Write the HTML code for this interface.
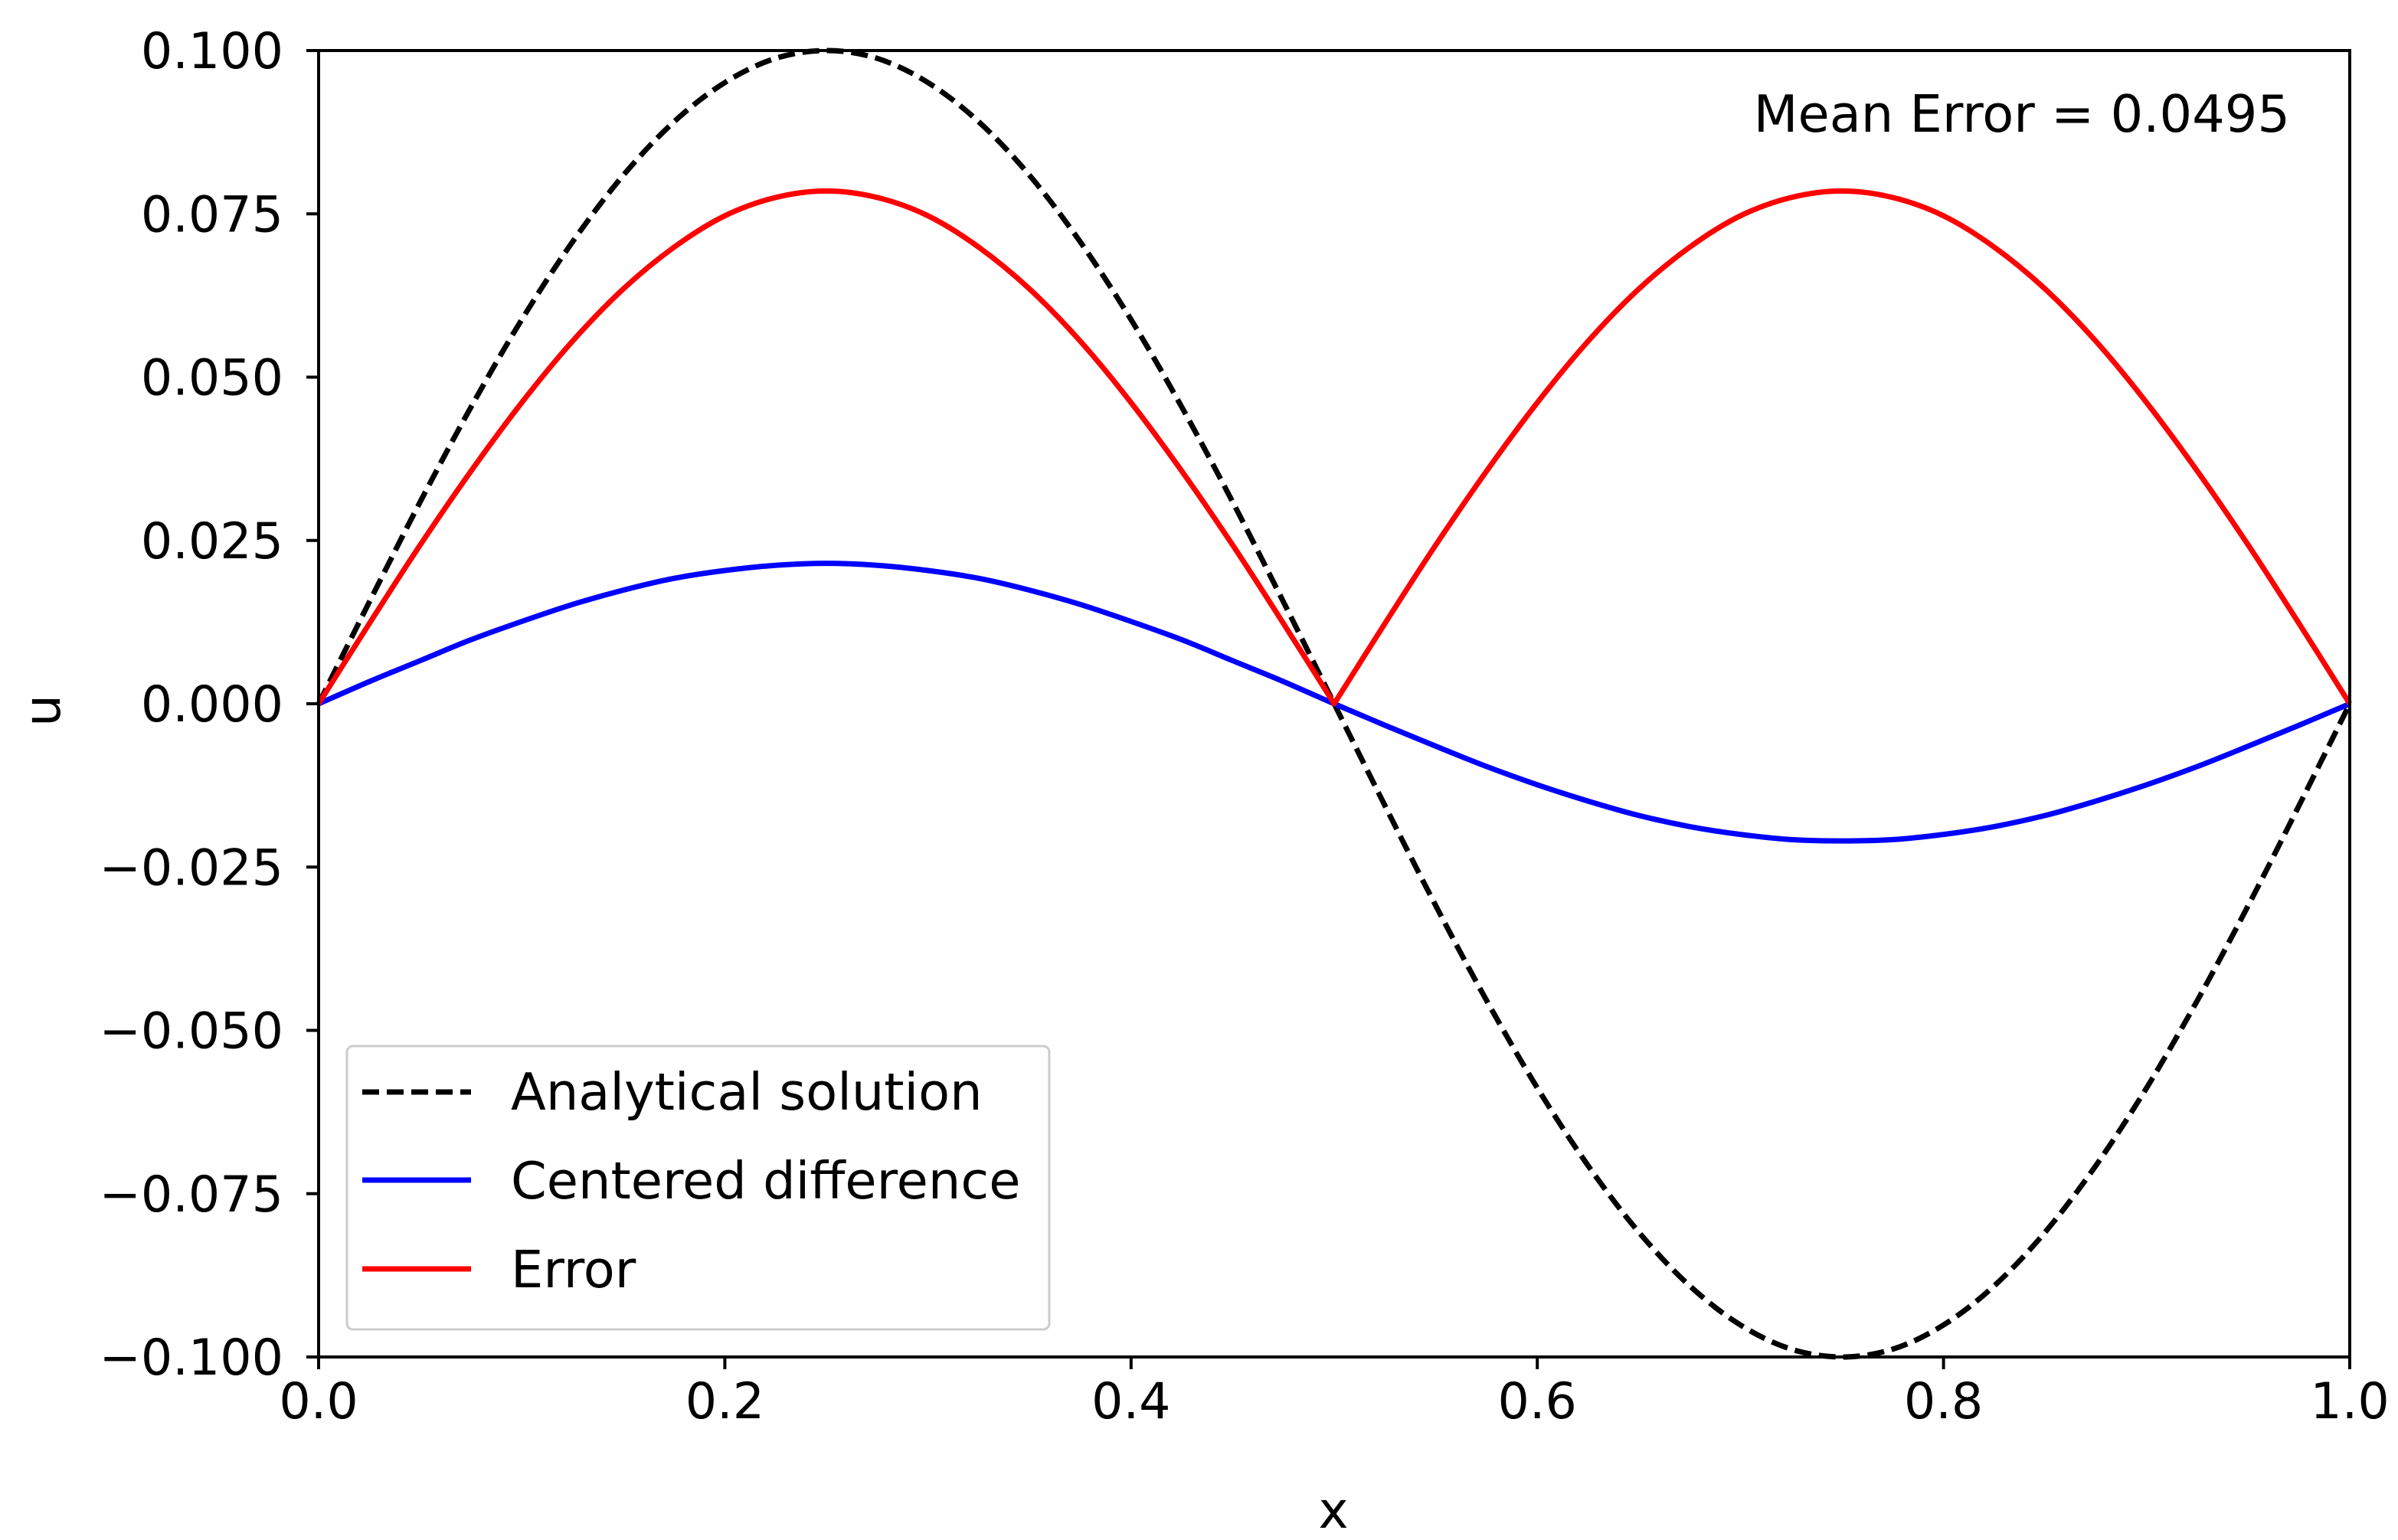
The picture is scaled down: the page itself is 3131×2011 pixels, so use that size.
<!DOCTYPE html>
<html><head><meta charset="utf-8"><style>
html,body{margin:0;padding:0;background:#fff;}
svg{display:block;}
text{font-family:"DejaVu Sans","Liberation Sans",sans-serif;fill:#000;}
</style></head><body>
<svg id="chart" width="3131" height="2011" viewBox="0 0 3131 2011" xmlns="http://www.w3.org/2000/svg">
<rect x="0" y="0" width="3131" height="2011" fill="#fff"/>
<g id="series"></g>
<g id="axes"></g>
<text x="2990" y="172" font-size="67" text-anchor="end">Mean Error = 0.0495</text>
<text x="1741" y="1995" font-size="66" text-anchor="middle">x</text>
<text x="0" y="0" font-size="66" text-anchor="middle" transform="translate(78,928) rotate(-90)">u</text>
<g>
<rect x="453" y="1366" width="917" height="370" rx="8" fill="#fff" fill-opacity="0.8" stroke="#ccc" stroke-width="3"/>
<line x1="473" y1="1426" x2="615" y2="1426" stroke="#000" stroke-width="7" stroke-dasharray="22,10"/>
<text x="667" y="1449" font-size="67">Analytical solution</text>
<line x1="473" y1="1541" x2="615" y2="1541" stroke="#00f" stroke-width="7"/>
<text x="667" y="1565" font-size="67">Centered difference</text>
<line x1="473" y1="1657" x2="615" y2="1657" stroke="#f00" stroke-width="7"/>
<text x="667" y="1681" font-size="67">Error</text>
</g>
</svg>
<script>
const xValues = [0,0.025,0.05,0.075,0.1,0.125,0.15,0.175,0.2,0.225,0.25,0.275,0.3,0.325,0.35,0.375,0.4,0.425,0.45,0.475,0.5,0.525,0.55,0.575,0.6,0.625,0.65,0.675,0.7,0.725,0.75,0.775,0.8,0.825,0.85,0.875,0.9,0.925,0.95,0.975,1];
const analytical = [0,0.0156,0.0309,0.0454,0.0588,0.0707,0.0809,0.0891,0.0951,0.0988,0.1,0.0988,0.0951,0.0891,0.0809,0.0707,0.0588,0.0454,0.0309,0.0156,0,-0.0156,-0.0309,-0.0454,-0.0588,-0.0707,-0.0809,-0.0891,-0.0951,-0.0988,-0.1,-0.0988,-0.0951,-0.0891,-0.0809,-0.0707,-0.0588,-0.0454,-0.0309,-0.0156,0];
const centered = [0,0.0034,0.0066,0.0098,0.0126,0.0152,0.0174,0.0192,0.0204,0.0212,0.0215,0.0212,0.0204,0.0192,0.0174,0.0152,0.0126,0.0098,0.0066,0.0034,0,-0.0033,-0.0065,-0.0096,-0.0124,-0.0149,-0.0171,-0.0188,-0.02,-0.0208,-0.021,-0.0208,-0.02,-0.0188,-0.0171,-0.0149,-0.0124,-0.0096,-0.0065,-0.0033,0];
const errorVals = [0,0.0123,0.0243,0.0356,0.0461,0.0555,0.0635,0.0699,0.0747,0.0775,0.0785,0.0775,0.0747,0.0699,0.0635,0.0555,0.0461,0.0356,0.0243,0.0123,0,0.0123,0.0243,0.0356,0.0461,0.0555,0.0635,0.0699,0.0747,0.0775,0.0785,0.0775,0.0747,0.0699,0.0635,0.0555,0.0461,0.0356,0.0243,0.0123,0];
const xTicks = [0,0.2,0.4,0.6,0.8,1.0];
const xTickLabels = ["0.0","0.2","0.4","0.6","0.8","1.0"];
const yTicks = [0.1,0.075,0.05,0.025,0,-0.025,-0.05,-0.075,-0.1];
const yTickLabels = ["0.100","0.075","0.050","0.025","0.000","\u22120.025","\u22120.050","\u22120.075","\u22120.100"];

const NS = "http://www.w3.org/2000/svg";
const L = 416, R = 3068, T = 66, B = 1772;
const xMin = 0, xMax = 1, yMin = -0.1, yMax = 0.1;
function sx(v){ return L + (v - xMin) / (xMax - xMin) * (R - L); }
function sy(v){ return B - (v - yMin) / (yMax - yMin) * (B - T); }

function smoothPath(xs, ys){
  const p = xs.map((x,i)=>[sx(x), sy(ys[i])]);
  let d = "M" + p[0][0].toFixed(1) + "," + p[0][1].toFixed(1);
  for (let i = 0; i < p.length - 1; i++){
    const p0 = p[i-1] || p[i], p1 = p[i], p2 = p[i+1], p3 = p[i+2] || p[i+1];
    const c1 = [p1[0] + (p2[0]-p0[0])/6, p1[1] + (p2[1]-p0[1])/6];
    const c2 = [p2[0] - (p3[0]-p1[0])/6, p2[1] - (p3[1]-p1[1])/6];
    d += " C" + c1[0].toFixed(1) + "," + c1[1].toFixed(1) + " " + c2[0].toFixed(1) + "," + c2[1].toFixed(1) + " " + p2[0].toFixed(1) + "," + p2[1].toFixed(1);
  }
  return d;
}
function cuspPath(xs, ys){
  let d = "", start = 0;
  for (let i = 1; i < xs.length; i++){
    if (ys[i] === 0 || i === xs.length - 1){
      const seg = smoothPath(xs.slice(start, i+1), ys.slice(start, i+1));
      d += (start === 0 ? seg : " L" + seg.slice(1));
      start = i;
    }
  }
  return d;
}

const series = document.getElementById("series");
const axes = document.getElementById("axes");

const pa = document.createElementNS(NS, "path");
pa.setAttribute("d", cuspPath(xValues, analytical));
pa.setAttribute("fill", "none"); pa.setAttribute("stroke", "#000"); pa.setAttribute("stroke-width", "7"); pa.setAttribute("stroke-dasharray", "22,10");


series.appendChild(pa);

const pb = document.createElementNS(NS, "path");
pb.setAttribute("d", smoothPath(xValues, centered));
pb.setAttribute("fill", "none"); pb.setAttribute("stroke", "#00f"); pb.setAttribute("stroke-width", "7");


series.appendChild(pb);

const pr = document.createElementNS(NS, "path");
pr.setAttribute("d", cuspPath(xValues, errorVals));
pr.setAttribute("fill", "none"); pr.setAttribute("stroke", "#f00"); pr.setAttribute("stroke-width", "7"); pr.setAttribute("stroke-linejoin", "round");


series.appendChild(pr);

const frame = document.createElementNS(NS, "rect");
frame.setAttribute("x", L); frame.setAttribute("y", T); frame.setAttribute("width", R - L); frame.setAttribute("height", B - T);
frame.setAttribute("fill", "none"); frame.setAttribute("stroke", "#000"); frame.setAttribute("stroke-width", "4");


axes.appendChild(frame);

xTicks.forEach((v,i)=>{
  const t = document.createElementNS(NS, "line");
  t.setAttribute("x1", sx(v)); t.setAttribute("x2", sx(v)); t.setAttribute("y1", B); t.setAttribute("y2", B + 16);
  t.setAttribute("stroke", "#000"); t.setAttribute("stroke-width", "4");
  
  
  axes.appendChild(t);
  const lb = document.createElementNS(NS, "text");
  lb.setAttribute("x", sx(v)); lb.setAttribute("y", B + 80); lb.setAttribute("font-size", "65"); lb.setAttribute("text-anchor", "middle");
  lb.textContent = xTickLabels[i];
  
  
  axes.appendChild(lb);
});
yTicks.forEach((v,i)=>{
  const t = document.createElementNS(NS, "line");
  t.setAttribute("x1", L - 16); t.setAttribute("x2", L); t.setAttribute("y1", sy(v)); t.setAttribute("y2", sy(v));
  t.setAttribute("stroke", "#000"); t.setAttribute("stroke-width", "4");
  
  
  axes.appendChild(t);
  const lb = document.createElementNS(NS, "text");
  lb.setAttribute("x", L - 46); lb.setAttribute("y", sy(v) + 23); lb.setAttribute("font-size", "65"); lb.setAttribute("text-anchor", "end");
  lb.textContent = yTickLabels[i];
  
  
  axes.appendChild(lb);
});
</script>
</body></html>
